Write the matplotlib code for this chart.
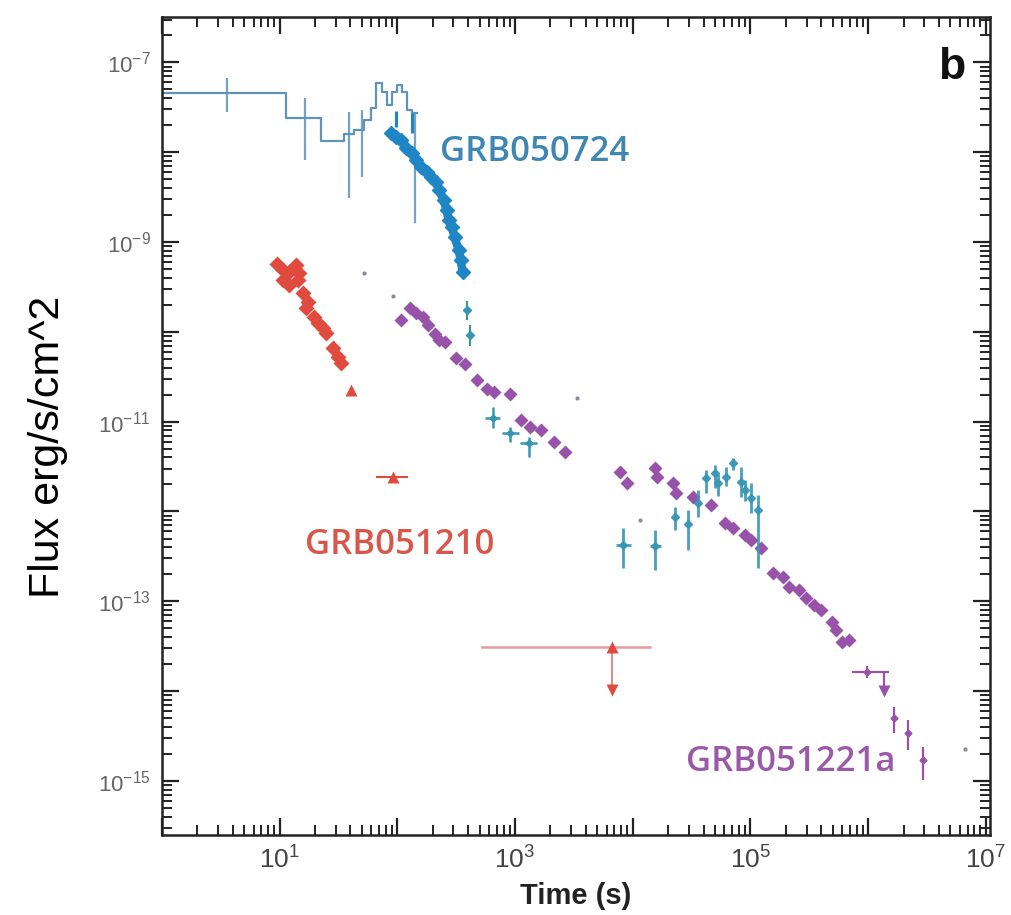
import numpy as np
import matplotlib
matplotlib.use('Agg')
import matplotlib.pyplot as plt
from matplotlib.ticker import FixedLocator, FuncFormatter, NullFormatter
from matplotlib import font_manager as fm

# ---------------- data ----------------
# GRB050724 BAT light curve (step histogram)
bat_edges = [0.9, 11.3, 22.4, 35.2, 42.9, 52.2, 60.0, 66.2, 74.5, 82.2, 90.6, 100, 110, 122, 134, 148]
bat_flux = [4.52e-8, 2.38e-8, 1.32e-8, 1.58e-8, 1.75e-8, 2.26e-8, 3.08e-8, 5.83e-8,
            4.63e-8, 3.33e-8, 4.63e-8, 5.55e-8, 4.63e-8, 2.92e-8, 2.71e-8]
bat_err_t = [3.6, 16.4, 38.9, 50.2, 140]
bat_err_lo = [2.78e-8, 8.13e-9, 3.07e-9, 5.26e-9, 1.62e-9]
bat_err_hi = [6.64e-8, 3.98e-8, 2.78e-8, 2.92e-8, 2.71e-8]

# GRB050724 XRT
xrt_t = [88.9, 98, 108, 119, 132, 145, 160, 177, 195, 215, 228, 247, 262, 273, 290, 307, 332, 345, 359]
xrt_f = [1.62e-8, 1.47e-8, 1.36e-8, 1.10e-8, 9.72e-9, 8.13e-9, 6.79e-9, 5.97e-9, 5.26e-9, 4.62e-9,
         3.77e-9, 2.92e-9, 2.26e-9, 1.75e-9, 1.46e-9, 1.13e-9, 8.1e-10, 6.28e-10, 4.61e-10]
xrt_early_t = [98, 132]
xrt_early_f = [2.4e-8, 2.1e-8]
xrt_early_lo = [1.9e-8, 1.62e-8]
xrt_early_hi = [2.9e-8, 2.71e-8]
xrt_tail_t = [389, 412]
xrt_tail_f = [1.74e-10, 9.2e-11]
xrt_tail_lo = [1.35e-10, 7.0e-11]
xrt_tail_hi = [2.2e-10, 1.2e-10]
xrt_mid_t = [649, 906, 1318]
xrt_mid_tlo = [555, 774, 1100]
xrt_mid_thi = [745, 1081, 1540]
xrt_mid_f = [1.10e-11, 7.46e-12, 5.78e-12]
xrt_mid_lo = [8.5e-12, 5.9e-12, 4.03e-12]
xrt_mid_hi = [1.45e-11, 8.7e-12, 6.75e-12]
xrt_late_t = [8.22e3, 1.54e4, 2.28e4, 2.95e4, 3.60e4, 4.21e4, 5.02e4, 5.33e4, 6.23e4, 7.16e4,
              8.38e4, 9.07e4, 1.02e5, 1.17e5]
xrt_late_tlo = [7.16e3, 1.40e4, 2.28e4, 2.95e4, 3.60e4, 4.21e4, 5.02e4, 5.33e4, 6.23e4, 7.16e4,
                8.38e4, 9.07e4, 1.02e5, 1.17e5]
xrt_late_thi = [9.6e3, 1.73e4, 2.28e4, 2.95e4, 3.60e4, 4.21e4, 5.02e4, 5.33e4, 6.23e4, 7.16e4,
                8.38e4, 9.07e4, 1.02e5, 1.17e5]
xrt_late_f = [4.24e-13, 4.13e-13, 8.69e-13, 7.26e-13, 1.24e-12, 2.36e-12, 2.68e-12, 2.07e-12,
              2.42e-12, 3.46e-12, 2.13e-12, 1.73e-12, 1.41e-12, 1.04e-12]
xrt_late_lo = [2.35e-13, 2.23e-13, 6.22e-13, 3.73e-13, 8.69e-13, 1.61e-12, 1.82e-12, 1.5e-12,
               1.9e-12, 2.90e-12, 1.45e-12, 1.3e-12, 9.6e-13, 2.35e-13]
xrt_late_hi = [6.55e-13, 6.22e-13, 1.12e-12, 1.04e-12, 1.73e-12, 2.90e-12, 3.29e-12, 2.6e-12,
               3.1e-12, 3.94e-12, 3.13e-12, 2.27e-12, 2.07e-12, 1.52e-12]

# GRB051210
r_t = [9.43, 10.6, 11.9, 13.7, 14.5, 10.6, 11.9, 14.3, 15.7, 17.4, 16.7, 19.5, 21.1, 23.3, 24.7,
       28.4, 31.3, 33.2]
r_f = [5.66e-10, 4.86e-10, 4.61e-10, 5.52e-10, 4.50e-10, 3.76e-10, 3.30e-10, 3.76e-10, 2.71e-10,
       2.14e-10, 1.84e-10, 1.46e-10, 1.25e-10, 1.10e-10, 9.68e-11, 6.59e-11, 5.24e-11, 4.49e-11]
r_tri_t = [40.4, 92.5]
r_tri_tlo = [40.4, 66.2]
r_tri_thi = [40.4, 124]
r_tri_f = [2.25e-11, 2.42e-12]
r_ul_t = 6.62e3
r_ul_tlo = 522
r_ul_thi = 1.40e4
r_ul_f = 3.11e-14
r_ul_arrow = 1.03e-14

# GRB051221a
p_t = [108, 129, 145, 164, 184, 207, 228, 252, 313, 374, 473, 577, 662, 907, 1125, 1343, 1667,
       2153, 2673, 7740, 8890, 1.54e4, 1.60e4, 2.20e4, 2.33e4, 3.26e4, 4.64e4, 6.11e4, 7.16e4,
       9.07e4, 1.02e5, 1.22e5, 1.57e5, 1.91e5, 2.11e5, 2.57e5, 2.95e5, 3.45e5, 3.96e5, 4.92e5,
       5.32e5, 5.99e5, 6.88e5]
p_f = [1.35e-10, 1.84e-10, 1.62e-10, 1.46e-10, 1.19e-10, 9.42e-11, 8.09e-11, 7.68e-11, 5.09e-11,
       4.37e-11, 2.90e-11, 2.31e-11, 2.14e-11, 2.03e-11, 1.04e-11, 8.71e-12, 8.07e-12, 5.93e-12,
       4.59e-12, 2.75e-12, 2.07e-12, 3.05e-12, 2.42e-12, 2.07e-12, 1.61e-12, 1.45e-12, 1.18e-12,
       7.45e-13, 6.55e-13, 5.48e-13, 4.82e-13, 3.93e-13, 2.07e-13, 1.87e-13, 1.44e-13, 1.34e-13,
       1.09e-13, 9.12e-14, 8.02e-14, 5.90e-14, 4.81e-14, 3.53e-14, 3.72e-14]
p_late_t = [9.8e5, 1.67e6, 2.20e6, 2.90e6]
p_late_tlo = [7.3e5, 1.67e6, 2.20e6, 2.90e6]
p_late_thi = [1.51e6, 1.67e6, 2.20e6, 2.90e6]
p_late_f = [1.64e-14, 5.05e-15, 3.44e-15, 1.72e-15]
p_late_lo = [1.4e-14, 3.44e-15, 2.22e-15, 1.03e-15]
p_late_hi = [1.9e-14, 6.68e-15, 4.80e-15, 2.40e-15]
p_ul_t = 1.37e6
p_ul_top = 1.6e-14
p_ul_f = 1.0e-14

dots_t = [52.2, 92.5, 3.39e3, 1.16e4, 6.6e6]
dots_f = [4.50e-10, 2.49e-10, 1.83e-11, 8.0e-13, 2.28e-15]

x_decades = list(range(0, 8))
y_decades = list(range(-16, -5))

# ---------------- style ----------------
C_BAT = '#5f93b8'
C_XRT = '#1f86c6'
C_TEAL = '#3596b4'
C_RED = '#e04a3f'
C_PUR = '#9852aa'

names = {f.name for f in fm.fontManager.ttflist}
narrow = 'Liberation Sans Narrow' if 'Liberation Sans Narrow' in names else 'Liberation Sans'
plt.rcParams['mathtext.fontset'] = 'custom'
plt.rcParams['mathtext.rm'] = narrow
plt.rcParams['mathtext.it'] = narrow
plt.rcParams['mathtext.bf'] = narrow

fig = plt.figure(figsize=(10.12, 9.15), dpi=100)
ax = fig.add_axes([0.160, 0.0874, 0.818, 0.894])
ax.set_xscale('log')
ax.set_yscale('log')
ax.set_xlim(1, 1.08e7)
ax.set_ylim(2.5e-16, 3.2e-7)


def yerr(f, lo, hi):
    f = np.asarray(f); lo = np.asarray(lo); hi = np.asarray(hi)
    return [f - lo, hi - f]


def xerr(t, lo, hi):
    t = np.asarray(t); lo = np.asarray(lo); hi = np.asarray(hi)
    return [t - lo, hi - t]


# BAT
ax.step(bat_edges, bat_flux + [bat_flux[-1]], where='post', color=C_BAT, lw=1.6, zorder=2)
bat_mid = np.sqrt(np.array(bat_err_lo) * np.array(bat_err_hi))
ax.errorbar(bat_err_t, bat_mid, yerr=yerr(bat_mid, bat_err_lo, bat_err_hi),
            fmt='none', ecolor=C_BAT, elinewidth=1.6, alpha=0.85, zorder=2)

# XRT
ax.errorbar(xrt_early_t, xrt_early_f, yerr=yerr(xrt_early_f, xrt_early_lo, xrt_early_hi),
            fmt='none', ecolor=C_XRT, elinewidth=2.2, zorder=3)
ax.plot(xrt_t, xrt_f, color=C_XRT, lw=6, solid_capstyle='round', zorder=3)
ax.plot(xrt_t, xrt_f, 'D', color=C_XRT, ms=7, zorder=3)
ax.errorbar(xrt_tail_t, xrt_tail_f, yerr=yerr(xrt_tail_f, xrt_tail_lo, xrt_tail_hi),
            fmt='D', color=C_TEAL, ms=4, elinewidth=1.5, zorder=3)
ax.errorbar(xrt_mid_t, xrt_mid_f, yerr=yerr(xrt_mid_f, xrt_mid_lo, xrt_mid_hi),
            xerr=xerr(xrt_mid_t, xrt_mid_tlo, xrt_mid_thi),
            fmt='D', color=C_TEAL, ms=3.5, elinewidth=1.8, zorder=3)

# GRB051210
ax.plot(r_t, r_f, 'D', color=C_RED, ms=8, mec='none', zorder=4)
ax.errorbar(r_tri_t, r_tri_f, xerr=xerr(r_tri_t, r_tri_tlo, r_tri_thi),
            fmt='^', color=C_RED, ms=9, mec='none', elinewidth=1.5, zorder=4)
ax.plot([r_ul_tlo, r_ul_thi], [r_ul_f, r_ul_f], color='#e59b9b', lw=1.8, zorder=4)
ax.plot([r_ul_t, r_ul_t], [r_ul_f, r_ul_arrow], color='#d99090', lw=1.5, zorder=4)
ax.plot([r_ul_t], [r_ul_f], '^', color=C_RED, ms=9, mec='none', zorder=5)
ax.plot([r_ul_t], [r_ul_arrow], 'v', color=C_RED, ms=8, mec='none', zorder=5)

# GRB051221a
ax.plot(p_t, p_f, 'D', color=C_PUR, ms=7.5, mec='none', zorder=4)
ax.errorbar(p_late_t, p_late_f, yerr=yerr(p_late_f, p_late_lo, p_late_hi),
            xerr=xerr(p_late_t, p_late_tlo, p_late_thi),
            fmt='D', color=C_PUR, ms=3.5, elinewidth=1.6, zorder=4)
ax.plot([p_ul_t, p_ul_t], [p_ul_top, p_ul_f], color=C_PUR, lw=1.6, zorder=4)
ax.plot([p_ul_t], [p_ul_f], 'v', color=C_PUR, ms=8, mec='none', zorder=4)

# late XRT of GRB050724
ax.errorbar(xrt_late_t, xrt_late_f, yerr=yerr(xrt_late_f, xrt_late_lo, xrt_late_hi),
            xerr=xerr(xrt_late_t, xrt_late_tlo, xrt_late_thi),
            fmt='D', color=C_TEAL, ms=4, elinewidth=2.0, alpha=0.9, zorder=5)

ax.plot(dots_t, dots_f, 'o', color='#8a8a9a', ms=2, zorder=3)

# ---------------- axes styling ----------------
for s in ax.spines.values():
    s.set_linewidth(1.8)
    s.set_color('#222222')

x_major = [10.0 ** k for k in x_decades]
y_major = [10.0 ** k for k in y_decades]
x_minor = [m * 10.0 ** k for k in x_decades for m in range(2, 10)]
y_minor = [m * 10.0 ** k for k in y_decades for m in range(2, 10)]
ax.xaxis.set_major_locator(FixedLocator(x_major))
ax.xaxis.set_minor_locator(FixedLocator(x_minor))
ax.yaxis.set_major_locator(FixedLocator(y_major))
ax.yaxis.set_minor_locator(FixedLocator(y_minor))
ax.xaxis.set_minor_formatter(NullFormatter())
ax.yaxis.set_minor_formatter(NullFormatter())

ax.xaxis.set_major_formatter(FuncFormatter(lambda v, p: (r'$10^{%d}$' % int(round(np.log10(v))))
                                           if int(round(np.log10(v))) % 2 == 1 else ''))
ax.yaxis.set_major_formatter(FuncFormatter(lambda v, p: ('$10^{-%d}$' % (-int(round(np.log10(v)))))
                                           if (-int(round(np.log10(v)))) % 2 == 1 else ''))

ax.tick_params(which='both', direction='in', top=True, right=True, color='#222222')
ax.tick_params(which='major', length=12, width=1.6)
ax.tick_params(which='minor', length=7, width=1.4)
ax.tick_params(axis='x', which='major', labelsize=19, labelcolor='#444444', pad=8)
ax.tick_params(axis='y', which='major', labelsize=16, labelcolor='#666666', pad=8)
for lab in ax.get_xticklabels() + ax.get_yticklabels():
    lab.set_family(narrow)

ax.set_xlabel('Time (s)', fontsize=21, family=narrow, fontweight='bold', color='#222222', labelpad=6)
ax.set_ylabel('Flux erg/s/cm^2', fontsize=31, family=narrow, color='black')
ax.yaxis.set_label_coords(-0.113, 0.474)

ax.text(0.336, 0.835, 'GRB050724', transform=ax.transAxes, fontsize=25, family='Open Sans',
        fontweight='semibold', color='#3f86b2', va='center', ha='left')
ax.text(0.173, 0.355, 'GRB051210', transform=ax.transAxes, fontsize=25, family='Open Sans',
        fontweight='semibold', color='#d9574a', va='center', ha='left')
ax.text(0.633, 0.089, 'GRB051221a', transform=ax.transAxes, fontsize=25, family='Open Sans',
        fontweight='semibold', color='#9a5aa8', va='center', ha='left')
ax.text(0.954, 0.938, 'b', transform=ax.transAxes, fontsize=32, family='Liberation Sans',
        fontweight='bold', color='#111111', va='center', ha='center')

fig.savefig('out.png', dpi=100)
